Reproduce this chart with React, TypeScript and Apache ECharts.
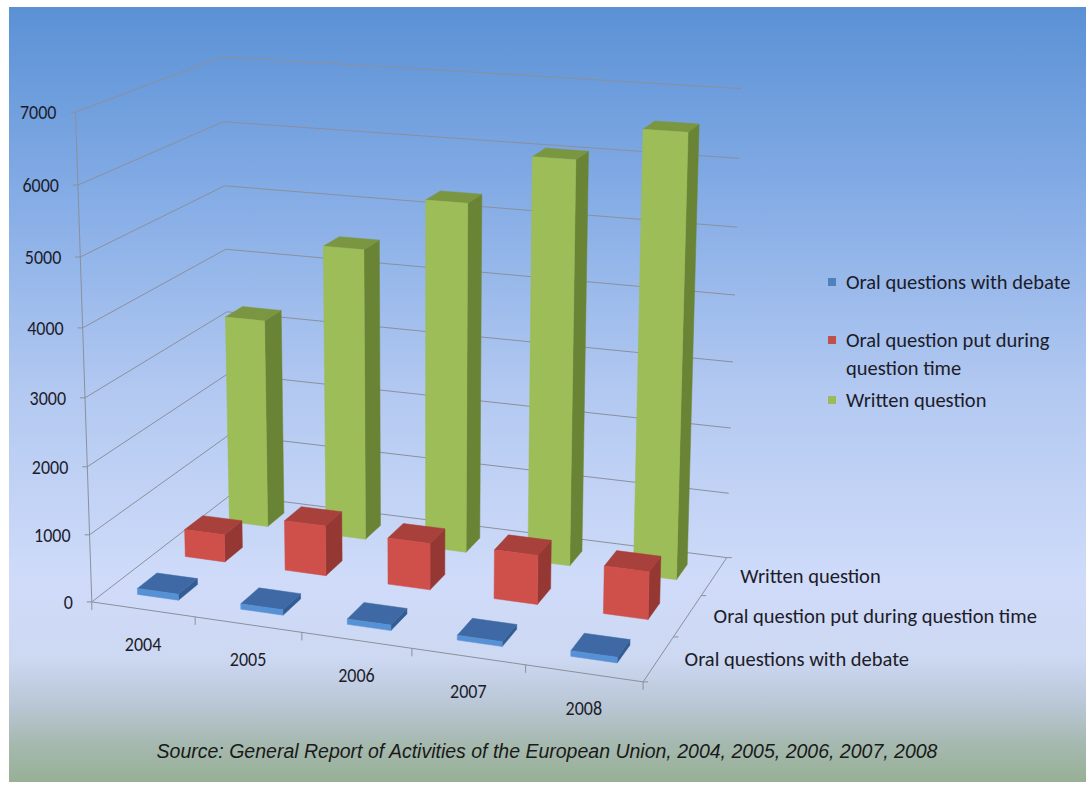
import { useEffect, useRef } from 'react';
import * as echarts from 'echarts';

// ---------- data ----------
const years = ['2004', '2005', '2006', '2007', '2008'];
const debateValues = [90, 80, 80, 70, 80];
const questionTimeValues = [420, 760, 700, 730, 700];
const writtenValues = [3250, 4480, 5300, 6050, 6550];
const seriesNames = [
  'Oral questions with debate',
  'Oral question put during question time',
  'Written question',
];
const legendLabels = [
  ['Oral questions with debate'],
  ['Oral question put during', 'question time'],
  ['Written question'],
];
const yTicks = [0, 1000, 2000, 3000, 4000, 5000, 6000, 7000];
const Y_MAX = 7000;
const sourceText =
  'Source: General Report of Activities of the European Union, 2004, 2005, 2006, 2007, 2008';

// ---------- 3D view calibration (layout): [X, Y, Z, px, py] ----------
const CALIB: number[][] = [
  [0, 7 / 7, 0, 77, 112], [0, 6 / 7, 0, 78, 185], [0, 5 / 7, 0, 80, 257], [0, 4 / 7, 0, 82, 327],
  [0, 3 / 7, 0, 85, 398], [0, 2 / 7, 0, 87, 467], [0, 1 / 7, 0, 90, 533], [0, 0, 0, 92, 603],
  [0, 7 / 7, 1, 220, 57], [0, 6 / 7, 1, 223, 122], [0, 5 / 7, 1, 225, 186], [0, 4 / 7, 1, 227, 249],
  [1, 7 / 7, 1, 742, 89], [1, 6 / 7, 1, 739, 158], [1, 5 / 7, 1, 737, 227], [1, 4 / 7, 1, 735, 295],
  [1, 3 / 7, 1, 733, 363], [1, 2 / 7, 1, 731, 428], [1, 1 / 7, 1, 729, 493], [1, 0, 1, 727, 557],
  [0.2, 0, 0, 195, 617], [0.4, 0, 0, 302, 633], [0.6, 0, 0, 412, 649], [0.8, 0, 0, 525, 666],
  [1, 0, 0, 643, 681], [1, 0, 1 / 3, 673, 637], [1, 0, 2 / 3, 701, 595],
];

function solveLinear(A: number[][], b: number[]): number[] {
  const n = b.length;
  const M = A.map((row, i) => [...row, b[i]]);
  for (let c = 0; c < n; c++) {
    let piv = c;
    for (let r = c + 1; r < n; r++) if (Math.abs(M[r][c]) > Math.abs(M[piv][c])) piv = r;
    const tmp = M[c]; M[c] = M[piv]; M[piv] = tmp;
    for (let r = 0; r < n; r++) {
      if (r === c) continue;
      const f = M[r][c] / M[c][c];
      for (let k = c; k <= n; k++) M[r][k] -= f * M[c][k];
    }
  }
  return M.map((row, i) => row[n] / row[i]);
}

function fitProjection(pts: number[][]): number[] {
  const n = 11;
  const N = Array.from({ length: n }, () => new Array(n).fill(0));
  const r = new Array(n).fill(0);
  const add = (a: number[], b: number) => {
    for (let i = 0; i < n; i++) {
      for (let j = 0; j < n; j++) N[i][j] += a[i] * a[j];
      r[i] += a[i] * b;
    }
  };
  for (const [X, Y, Z, u, v] of pts) {
    add([X, Y, Z, 1, 0, 0, 0, 0, -u * X, -u * Y, -u * Z], u);
    add([0, 0, 0, 0, X, Y, Z, 1, -v * X, -v * Y, -v * Z], v);
  }
  return solveLinear(N, r);
}

const P = fitProjection(CALIB);
function proj(X: number, Y: number, Z: number): number[] {
  const w = P[8] * X + P[9] * Y + P[10] * Z + 1;
  return [
    (P[0] * X + P[1] * Y + P[2] * Z + P[3]) / w,
    (P[4] * X + P[5] * Y + P[6] * Z + P[7]) / w,
  ];
}

const ROWS = 3;
const BAR_FRAC = 0.4;
const TEXT = '#1c1c2a';
const GRID = '#8a909c';
const LABEL_FONT = 'Carlito, Lato, sans-serif';

const barColors = [
  { front: '#5691d6', top: '#3f69a5', side: '#335c95', legend: '#4f81bd' },
  { front: '#cf4f4a', top: '#a8403b', side: '#953833', legend: '#c0504d' },
  { front: '#9dbd58', top: '#7a9640', side: '#6a8435', legend: '#9bbb59' },
];

function norm(params: any, api: any, ci: number, v: number) {
  const cs = params.coordSys;
  const c = api.coord([ci, v]);
  const band = api.size([1, 0])[0] / cs.width;
  return {
    X: (c[0] - cs.x) / cs.width,
    Y: (cs.y + cs.height - c[1]) / cs.height,
    band,
  };
}

function makeBarSeries(name: string, values: number[], row: number, z: number) {
  const col = barColors[row];
  return {
    type: 'custom',
    name,
    coordinateSystem: 'cartesian2d',
    clip: false,
    silent: true,
    z,
    data: values.map((v, i) => [i, v]),
    encode: { x: 0, y: 1 },
    renderItem: (params: any, api: any) => {
      const ci = api.value(0);
      const v = api.value(1);
      const { X, Y, band } = norm(params, api, ci, v);
      const hw = (band * BAR_FRAC) / 2;
      const x0 = X - hw;
      const x1 = X + hw;
      const zc = (row + 0.5) / ROWS;
      const hd = (BAR_FRAC / ROWS) / 2;
      const z0 = zc - hd;
      const z1 = zc + hd;
      const poly = (pts: number[][], fill: string) => ({
        type: 'polygon',
        shape: { points: pts },
        style: { fill, stroke: fill, lineWidth: 0.5 },
      });
      return {
        type: 'group',
        children: [
          poly([proj(x1, 0, z0), proj(x1, 0, z1), proj(x1, Y, z1), proj(x1, Y, z0)], col.side),
          poly([proj(x0, Y, z0), proj(x1, Y, z0), proj(x1, Y, z1), proj(x0, Y, z1)], col.top),
          poly([proj(x0, 0, z0), proj(x1, 0, z0), proj(x1, Y, z0), proj(x0, Y, z0)], col.front),
        ],
      };
    },
  };
}

const line = (a: number[], b: number[], stroke = GRID, lineWidth = 1) => ({
  type: 'line',
  shape: { x1: a[0], y1: a[1], x2: b[0], y2: b[1] },
  style: { stroke, lineWidth },
});

// grid lines, value axis and its labels
const gridSeries = {
  type: 'custom',
  name: 'valueAxis',
  coordinateSystem: 'cartesian2d',
  clip: false,
  silent: true,
  z: 1,
  data: yTicks.map((t) => [0, t]),
  encode: { x: 0, y: 1 },
  renderItem: (params: any, api: any) => {
    const t = api.value(1);
    const { Y } = norm(params, api, 0, t);
    const f = proj(0, Y, 0);
    const children: any[] = [
      line(f, proj(0, Y, 1)),
      line(proj(0, Y, 1), proj(1, Y, 1)),
      line(f, [f[0] - 5, f[1]]),
      {
        type: 'text',
        x: f[0] - 19,
        y: f[1],
        scaleX: 0.9,
        style: {
          text: String(t),
          fill: TEXT,
          fontSize: 20,
          fontFamily: LABEL_FONT,
          align: 'right',
          verticalAlign: 'middle',
        },
      },
    ];
    if (t === 0) {
      const top = norm(params, api, 0, Y_MAX).Y;
      children.push(line(proj(0, 0, 0), proj(0, top, 0)));
      children.push(line(proj(0, 0, 0), proj(1, 0, 0)));
      children.push(line(proj(1, 0, 0), proj(1, 0, 1)));
      for (let k = 0; k <= ROWS; k++) {
        const p = proj(1, 0, k / ROWS);
        children.push(line(p, [p[0] + 5, p[1]]));
      }
    }
    return { type: 'group', children };
  },
};

// category axis labels and ticks
const categorySeries = {
  type: 'custom',
  name: 'categoryAxis',
  coordinateSystem: 'cartesian2d',
  clip: false,
  silent: true,
  z: 1,
  data: years.map((_, i) => [i, 0]),
  encode: { x: 0, y: 1 },
  renderItem: (params: any, api: any) => {
    const ci = api.value(0);
    const { X, band } = norm(params, api, ci, 0);
    const c = proj(X, 0, 0);
    const l = proj(X - band / 2, 0, 0);
    const children: any[] = [
      line(l, [l[0], l[1] + 8]),
      {
        type: 'text',
        x: c[0],
        y: c[1] + 35,
        scaleX: 0.9,
        style: {
          text: years[ci],
          fill: TEXT,
          fontSize: 20,
          fontFamily: LABEL_FONT,
          align: 'center',
          verticalAlign: 'middle',
        },
      },
    ];
    if (ci === years.length - 1) {
      const r = proj(X + band / 2, 0, 0);
      children.push(line(r, [r[0], r[1] + 8]));
    }
    return { type: 'group', children };
  },
};

const depthLabelGraphics = seriesNames.map((name, row) => {
  const p = proj(1, 0, (row + 0.5) / ROWS);
  return {
    type: 'text',
    x: p[0] + 26,
    y: p[1],
    style: {
      text: name,
      fill: TEXT,
      fontSize: 20.5,
      fontFamily: LABEL_FONT,
      align: 'left',
      verticalAlign: 'middle',
    },
  };
});

const legendTops = [282, 340, 400];
const legendGraphics: any[] = [];
legendLabels.forEach((lines, i) => {
  const y = legendTops[i];
  legendGraphics.push({
    type: 'rect',
    shape: { x: 828, y: y - 4, width: 8, height: 8 },
    style: { fill: barColors[i].legend },
  });
  lines.forEach((txt, j) => {
    legendGraphics.push({
      type: 'text',
      x: 846,
      y: y + j * 28,
      style: {
        text: txt,
        fill: TEXT,
        fontSize: 20.5,
        fontFamily: LABEL_FONT,
        align: 'left',
        verticalAlign: 'middle',
      },
    });
  });
});

export default function App() {
  const ref = useRef<HTMLDivElement>(null);
  useEffect(() => {
    if (!ref.current) return;
    const chart = echarts.init(ref.current, undefined, { renderer: 'svg' });
    chart.setOption({
      animation: false,
      backgroundColor: '#ffffff',
      grid: { left: 0, top: 0, width: 1000, height: 700, show: false },
      xAxis: { type: 'category', data: years, show: false },
      yAxis: { type: 'value', min: 0, max: Y_MAX, interval: 1000, show: false },
      graphic: [
        {
          type: 'rect',
          z: -10,
          silent: true,
          shape: { x: 9, y: 7, width: 1077, height: 775 },
          style: {
            fill: new echarts.graphic.LinearGradient(0, 0, 0, 1, [
              { offset: 0, color: '#5a91d5' },
              { offset: 0.25, color: '#86ade6' },
              { offset: 0.5, color: '#b3c9f1' },
              { offset: 0.74, color: '#cfdbf9' },
              { offset: 0.84, color: '#cdd8f2' },
              { offset: 0.9, color: '#b9c7d6' },
              { offset: 0.95, color: '#a6b9b0' },
              { offset: 1, color: '#97b096' },
            ]),
          },
        },
        ...depthLabelGraphics,
        ...legendGraphics,
        {
          type: 'text',
          x: 547,
          y: 751,
          style: {
            text: sourceText,
            fill: '#1a1a1a',
            fontSize: 19.5,
            fontStyle: 'italic',
            fontFamily: '"Liberation Sans", Arial, sans-serif',
            align: 'center',
            verticalAlign: 'middle',
          },
        },
      ],
      series: [
        gridSeries,
        categorySeries,
        makeBarSeries(seriesNames[2], writtenValues, 2, 3),
        makeBarSeries(seriesNames[1], questionTimeValues, 1, 4),
        makeBarSeries(seriesNames[0], debateValues, 0, 5),
      ],
    });
    return () => chart.dispose();
  }, []);
  return (
    <div
      ref={ref}
      style={{ position: 'fixed', left: 0, top: 0, width: 1089, height: 785 }}
    />
  );
}
